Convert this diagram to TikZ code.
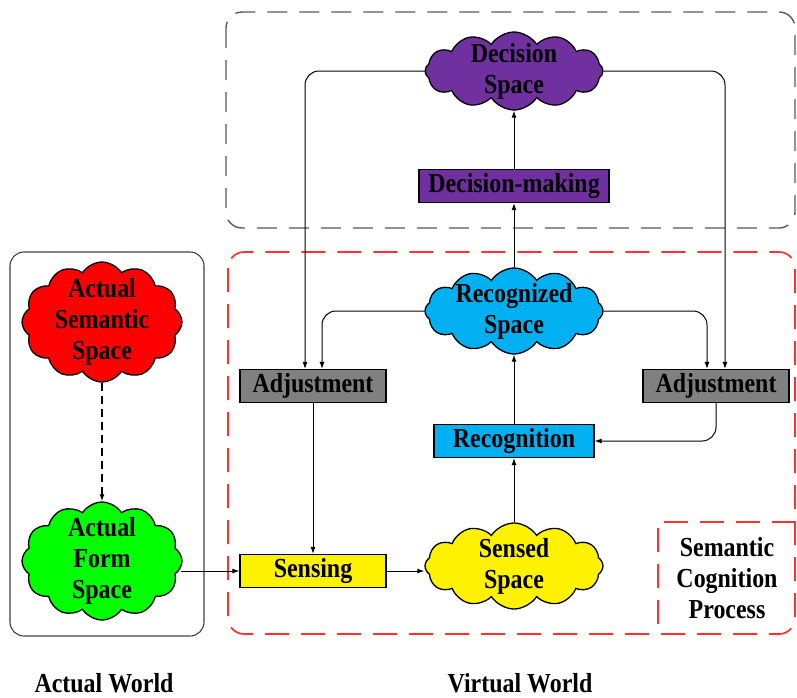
\documentclass[tikz,border=0pt]{standalone}
\usepackage{fontspec}
\setmainfont{Liberation Serif}[FakeStretch=0.87]
\usepackage{tikz}
\usetikzlibrary{arrows.meta, shapes.symbols}
\definecolor{dpurple}{HTML}{7030A0}
\definecolor{rcyan}{HTML}{00B0F0}
\definecolor{rgray}{HTML}{808080}
\definecolor{dashred}{HTML}{FF3030}

\begin{document}
\begin{tikzpicture}[
    x=1pt, y=-1pt,
    font=\bfseries\fontsize{27.5}{31}\selectfont,
    >={Latex[length=7pt, width=5pt]},
    conn/.style={line width=1pt, rounded corners=14pt},
    cloudbox/.style={cloud, cloud puffs=12, cloud puff arc=115, cloud ignores aspect,
      draw=black, line width=1.3pt, inner sep=0pt, minimum width=178pt, minimum height=86pt},
    lbl/.style={align=center, inner sep=0pt},
    stepbox/.style={draw=black, line width=1.2pt, minimum height=33pt, inner sep=2pt},
    regionred/.style={draw=dashred, line width=1.7pt, dash pattern=on 24pt off 12pt}
]
  \useasboundingbox (0,0) rectangle (797,697);

  % Draw the world frames
  \draw[draw=black!75, line width=1.1pt, rounded corners=14pt] (10,252) rectangle (204,636);
  \draw[draw=black!65, line width=1.4pt, dash pattern=on 20pt off 12pt, rounded corners=16pt]
    (226,12) rectangle (795,228);
  \draw[regionred, rounded corners=16pt] (228,252) rectangle (795,634);
  \node[align=center, minimum width=137pt, minimum height=112pt] (process) at (727,578)
    {Semantic\\Cognition\\Process};
  \draw[regionred] (process.north east) -| (process.south west);

  % Draw the spaces
  \node[cloudbox, fill=red, minimum width=160pt, minimum height=120pt,
        label={[lbl]center:{Actual\\Semantic\\Space}}] (semspace) at (102,322) {};
  \node[cloudbox, fill=green, minimum width=160pt, minimum height=118pt,
        label={[lbl]center:{Actual\\Form\\Space}}] (formspace) at (102,561) {};
  \node[cloudbox, fill=dpurple, minimum height=78pt,
        label={[lbl]center:{Decision\\Space}}] (decision) at (514,71) {};
  \node[cloudbox, fill=rcyan,
        label={[lbl]center:{Recognized\\Space}}] (recspace) at (514,311) {};
  \node[cloudbox, fill=yellow,
        label={[lbl]center:{Sensed\\Space}}] (sensed) at (514,566) {};

  % Draw the steps
  \node[stepbox, fill=dpurple, minimum width=190pt] (decmaking) at (514,186) {Decision-making};
  \node[stepbox, fill=rgray, minimum width=146pt] (adjleft) at (313,386) {Adjustment};
  \node[stepbox, fill=rgray, minimum width=146pt] (adjright) at (716,386) {Adjustment};
  \node[stepbox, fill=rcyan, minimum width=160pt] (recognition) at (514,441) {Recognition};
  \node[stepbox, fill=yellow, minimum width=146pt] (sensing) at (313,571) {Sensing};

  % Draw the connectors
  \draw[conn, ->, line width=1.2pt, dash pattern=on 8pt off 5pt] (semspace) -- (formspace);
  \draw[conn, ->] ([xshift=-2pt]formspace.east |- sensing.west) -- (sensing.west);
  \draw[conn, ->] (sensing.east) -- (sensing.east -| sensed.west);
  \draw[conn, ->] (sensed) -- (recognition);
  \draw[conn, ->] (recognition) -- (recspace);
  \draw[conn, ->] (recspace) -- (decmaking);
  \draw[conn, ->] (decmaking) -- (decision);
  \draw[conn, ->] (decision.west) -| ([xshift=-8pt]adjleft.north);
  \draw[conn, ->] (decision.east) -| ([xshift=9pt]adjright.north);
  \draw[conn, ->] (recspace.west) -| ([xshift=9pt]adjleft.north);
  \draw[conn, ->] (recspace.east) -| ([xshift=-9pt]adjright.north);
  \draw[conn, ->] (adjleft) -- (sensing);
  \draw[conn, ->] (adjright.south) |- (recognition.east);

  % Draw the world labels
  \node (actual) at (104,683) {Actual World};
  \node (virtual) at (520,683) {Virtual World};
\end{tikzpicture}
\end{document}
